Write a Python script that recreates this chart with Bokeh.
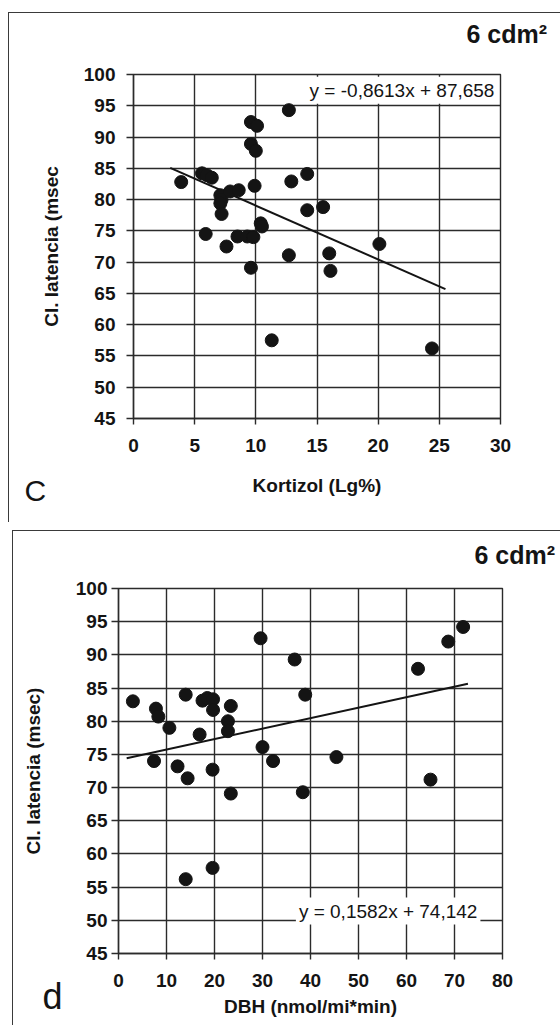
from bokeh.plotting import figure
from bokeh.models import Label, Range1d, FixedTicker, Spacer
from bokeh.layouts import column, row
from bokeh.embed import file_html
from bokeh.resources import INLINE

# ---------------- panel c : Kortizol ----------------
c_kortizol = [3.9, 5.6, 6.0, 6.4, 5.9, 7.1, 7.2, 7.1, 7.2, 7.9, 8.6, 7.6, 8.5, 9.3, 9.8,
              9.6, 10.1, 9.6, 10.0, 9.9, 9.6, 10.4, 10.5, 11.3, 12.7, 12.9, 12.7, 14.2,
              14.2, 15.5, 16.0, 16.1, 20.1, 24.4]
c_latency = [82.8, 84.2, 83.9, 83.5, 74.5, 80.7, 80.0, 79.4, 77.7, 81.3, 81.5, 72.5, 74.1,
             74.1, 74.0, 92.4, 91.8, 88.9, 87.8, 82.2, 69.1, 76.2, 75.7, 57.5, 94.3, 82.9,
             71.1, 84.1, 78.3, 78.8, 71.4, 68.6, 72.9, 56.2]
c_fit_x = [3.0, 25.5]
c_fit_y = [85.07, 65.69]
c_equation = "y = -0,8613x + 87,658"
c_xticks = [0, 5, 10, 15, 20, 25, 30]
c_yticks = [45, 50, 55, 60, 65, 70, 75, 80, 85, 90, 95, 100]
c_xlabel = "Kortizol (Lg%)"
c_ylabel = "Cl. latencia (msec"

# ---------------- panel d : DBH ----------------
d_dbh = [3.0, 7.8, 8.3, 10.6, 7.4, 12.3, 14.4, 14.0, 14.0, 16.9, 17.5, 18.5, 19.7, 19.7,
         19.6, 19.6, 23.4, 22.8, 22.8, 23.4, 29.6, 30.0, 32.2, 36.7, 38.9, 38.4, 45.4,
         62.4, 65.0, 68.7, 71.8]
d_latency = [83.0, 81.9, 80.7, 79.0, 74.0, 73.2, 71.4, 84.0, 56.2, 78.0, 83.1, 83.5, 83.3,
             81.7, 72.7, 57.9, 82.3, 80.0, 78.5, 69.1, 92.5, 76.1, 74.0, 89.3, 84.0, 69.3,
             74.6, 87.9, 71.2, 92.0, 94.2]
d_fit_x = [1.7, 72.8]
d_fit_y = [74.41, 85.66]
d_equation = "y = 0,1582x + 74,142"
d_xticks = [0, 10, 20, 30, 40, 50, 60, 70, 80]
d_yticks = [45, 50, 55, 60, 65, 70, 75, 80, 85, 90, 95, 100]
d_xlabel = "DBH (nmol/mi*min)"
d_ylabel = "Cl. latencia (msec)"

tag_text = "6 cdm\u00b2"

INK = "#141414"
GRID = "#2b2b2b"
FONT = "Liberation Sans"


def make_panel(W, H, bl, br, bt, bb, xr, yr, xticks, yticks, xlabel, ylabel, xs, ys,
               fx, fy, eq, eq_x, eq_y, letter, letter_size, letter_pos, tag_pos,
               ytick_standoff, ylab_standoff, xtick_standoff, xlab_standoff):
    p = figure(width=W, height=H, x_range=Range1d(*xr), y_range=Range1d(*yr),
               output_backend="svg", toolbar_location=None,
               min_border_left=bl, min_border_right=br, min_border_top=bt,
               min_border_bottom=bb)
    p.styles = {"border-top": "1px solid #3a3a3a", "border-left": "1px solid #3a3a3a"}
    p.background_fill_color = "white"
    p.border_fill_color = "white"
    p.outline_line_color = GRID
    p.outline_line_width = 1.4

    p.xaxis.ticker = FixedTicker(ticks=xticks)
    p.yaxis.ticker = FixedTicker(ticks=yticks)
    p.xgrid.ticker = FixedTicker(ticks=xticks)
    p.ygrid.ticker = FixedTicker(ticks=yticks)
    p.grid.grid_line_color = GRID
    p.grid.grid_line_width = 1.4
    p.grid.grid_line_alpha = 1.0

    for ax in (p.xaxis[0], p.yaxis[0]):
        ax.axis_line_color = GRID
        ax.axis_line_width = 1.4
        ax.major_tick_line_color = GRID
        ax.major_tick_line_width = 1.4
        ax.major_tick_in = 0
        ax.minor_tick_line_color = None
        ax.major_label_text_font = FONT
        ax.major_label_text_font_style = "bold"
        ax.major_label_text_font_size = "19px"
        ax.major_label_text_color = INK
        ax.axis_label_text_font = FONT
        ax.axis_label_text_font_style = "bold"
        ax.axis_label_text_font_size = "19px"
        ax.axis_label_text_color = INK
    p.xaxis.major_tick_out = 6
    p.yaxis.major_tick_out = 7
    p.yaxis.major_label_standoff = ytick_standoff
    p.yaxis.axis_label_standoff = ylab_standoff
    p.xaxis.major_label_standoff = xtick_standoff
    p.xaxis.axis_label_standoff = xlab_standoff
    p.xaxis.axis_label = xlabel
    p.yaxis.axis_label = ylabel

    p.line(fx, fy, line_color=INK, line_width=2.0)
    p.scatter(xs, ys, size=13, fill_color=INK, line_color=INK)

    p.add_layout(Label(x=eq_x, y=eq_y, text=eq, text_align="right",
                       text_baseline="middle", text_font=FONT, text_font_size="19px",
                       text_color=INK, background_fill_color="white", padding=3))
    # panel letter: lives in the (empty) right side panel so it is not clipped
    p.add_layout(Label(x=letter_pos[0], y=letter_pos[1], x_units="screen",
                       y_units="screen", text=letter, text_font=FONT,
                       text_font_size=letter_size, text_color=INK,
                       text_baseline="alphabetic"), "right")
    p.add_layout(Label(x=tag_pos[0], y=tag_pos[1], x_units="screen", y_units="screen",
                       text=tag_text, text_font=FONT, text_font_style="bold",
                       text_font_size="25px", text_color=INK,
                       text_baseline="alphabetic"), "above")
    return p


# frame c: canvas left 124, right 491, top 61, bottom 405
p1 = make_panel(552, 510, 124, 61, 61, 105, (0, 30), (45, 100), c_xticks, c_yticks,
                c_xlabel, c_ylabel, c_kortizol, c_latency, c_fit_x, c_fit_y,
                c_equation, 29.75, 97.5, "C", "30px", (15 - 491, -72), (333, 41),
                11, 19, 14, 20)
# frame d: canvas left 105, right 489, top 57, bottom 422
p2 = make_panel(548, 495, 105, 59, 57, 73, (0, 80), (45, 100), d_xticks, d_yticks,
                d_xlabel, d_ylabel, d_dbh, d_latency, d_fit_x, d_fit_y,
                d_equation, 75.4, 51.4, "d", "36px", (29 - 489, -43), (356, 34),
                4, 29, 14, 6)

layout = column(Spacer(width=560, height=12),
                row(Spacer(width=8, height=510), p1),
                Spacer(width=560, height=8),
                row(Spacer(width=12, height=495), p2))
open("out.html", "w").write(file_html(layout, INLINE))
